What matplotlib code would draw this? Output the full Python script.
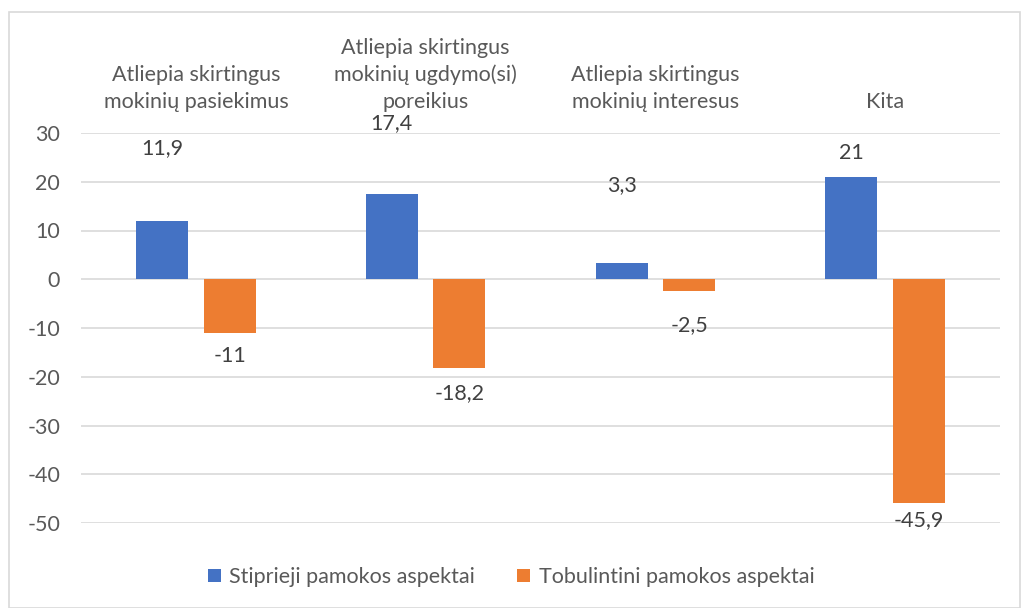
import numpy as np
import matplotlib.pyplot as plt
from matplotlib.patches import Rectangle

categories = ["Atliepia skirtingus\nmokinių pasiekimus",
              "Atliepia skirtingus\nmokinių ugdymo(si)\nporeikius",
              "Atliepia skirtingus\nmokinių interesus",
              "Kita"]
strong = [11.9, 17.4, 3.3, 21]
improve = [-11, -18.2, -2.5, -45.9]
series_names = ["Stiprieji pamokos aspektai", "Tobulintini pamokos aspektai"]

# label offsets (points) from bar end
strong_offsets = [53, 51, 56, 17]
improve_offsets = [-17, -18, -24, -12]

plt.rcParams['font.family'] = ['Lato', 'DejaVu Sans']
plt.rcParams['axes.unicode_minus'] = False
fs = 15.5

fig = plt.figure(figsize=(10.24, 6.08), dpi=100)
ax = fig.add_axes([81 / 1024, 1 - 523 / 608, (1000 - 81) / 1024, (523 - 133) / 608])

fig.add_artist(Rectangle((9 / 1024, 0), (1020 - 9) / 1024, 1 - 12 / 608,
                         transform=fig.transFigure, fill=False,
                         edgecolor='#d9d9d9', linewidth=1.2))

x = np.arange(len(categories))
w = 0.227
off = 0.147
blue = '#4472c4'
orange = '#ed7d31'
b1 = ax.bar(x - off, strong, w, color=blue, label=series_names[0], zorder=3)
b2 = ax.bar(x + off, improve, w, color=orange, label=series_names[1], zorder=3)

txt = '#404040'
for xi, v, o in zip(x, strong, strong_offsets):
    ax.annotate(f"{v:g}".replace('.', ','), (xi - off, v), xytext=(0, o),
                textcoords='offset points', ha='center', va='center',
                fontsize=fs, color=txt)
for xi, v, o in zip(x, improve, improve_offsets):
    ax.annotate(f"{v:g}".replace('.', ','), (xi + off, v), xytext=(0, o),
                textcoords='offset points', ha='center', va='center',
                fontsize=fs, color=txt)

ax.set_xlim(-0.5, 3.5)
ax.set_ylim(-50, 30)
ax.set_yticks(np.arange(-50, 31, 10))
ax.tick_params(axis='y', length=0, labelsize=fs, labelcolor='#595959', pad=15)
ax.xaxis.tick_top()
ax.set_xticks(x)
ax.set_xticklabels(categories, fontsize=fs, color='#595959', linespacing=1.42)
ax.tick_params(axis='x', length=0, pad=15)
ax.grid(axis='y', color='#d9d9d9', linewidth=1.2, zorder=0)
for s in ax.spines.values():
    s.set_visible(False)

fig.legend(handles=[b1, b2], labels=series_names, loc='center',
           bbox_to_anchor=(511 / 1024, 1 - 577 / 608), ncol=2, frameon=False,
           fontsize=fs, labelcolor='#595959', handlelength=0.6, handleheight=0.6,
           handletextpad=0.4, columnspacing=1.95)

fig.savefig('out.png', dpi=100)
